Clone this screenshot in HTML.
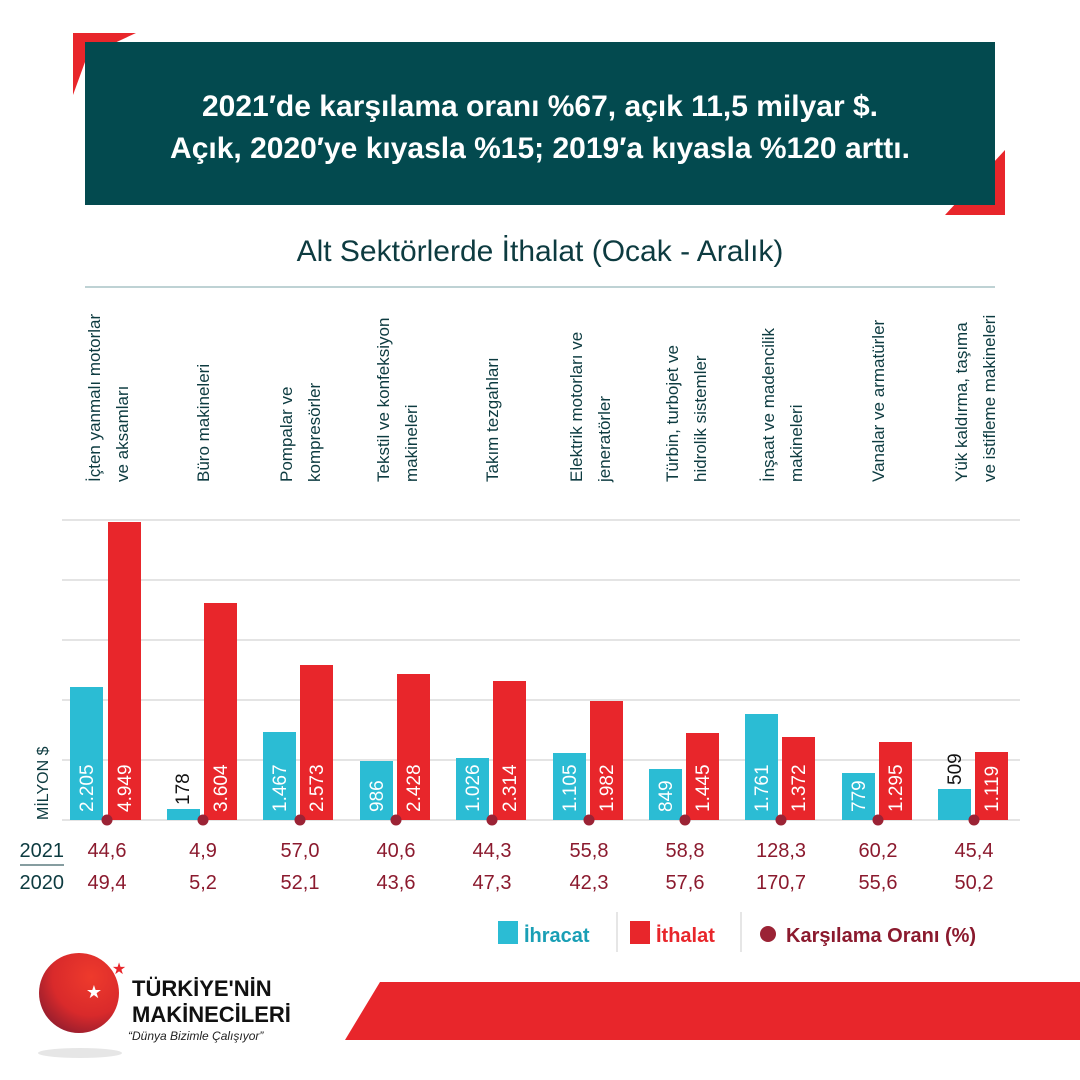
<!DOCTYPE html>
<html><head><meta charset="utf-8"><style>
html,body{margin:0;padding:0;background:#fff;}
svg{display:block;font-family:"Liberation Sans",sans-serif;}
</style></head><body>
<svg width="1080" height="1080" viewBox="0 0 1080 1080" xmlns="http://www.w3.org/2000/svg">
<!-- corner accents -->
<polygon points="73,33 136,33 95,52 85,52 85,62 73,95" fill="#e8262b"/>
<polygon points="1005,150 1005,215 945,215" fill="#e8262b"/>
<rect x="85" y="42" width="910" height="163" fill="#034a4f"/>
<text x="540" y="116" text-anchor="middle" fill="#fff" font-size="30" font-weight="bold">2021′de karşılama oranı %67, açık 11,5 milyar $.</text>
<text x="540" y="158" text-anchor="middle" fill="#fff" font-size="30" font-weight="bold">Açık, 2020′ye kıyasla %15; 2019′a kıyasla %120 arttı.</text>
<text x="540" y="261" text-anchor="middle" fill="#0d3b40" font-size="30">Alt Sektörlerde İthalat (Ocak - Aralık)</text>
<line x1="85" y1="287" x2="995" y2="287" stroke="#a8c4c6" stroke-width="1.5"/>
<!-- grid -->
<g stroke="#dcdcdc" stroke-width="1.5">
<line x1="62" y1="520" x2="1020" y2="520"/><line x1="62" y1="580" x2="1020" y2="580"/>
<line x1="62" y1="640" x2="1020" y2="640"/><line x1="62" y1="700" x2="1020" y2="700"/>
<line x1="62" y1="760" x2="1020" y2="760"/><line x1="62" y1="820" x2="1020" y2="820"/>
</g>
<text transform="translate(48,820) rotate(-90)" fill="#0d3b40" font-size="16">MİLYON $</text>
<g font-size="17" fill="#0d3b40">
<text transform="translate(100,482) rotate(-90)">İçten yanmalı motorlar</text>
<text transform="translate(128,482) rotate(-90)">ve aksamları</text>
<text transform="translate(209,482) rotate(-90)">Büro makineleri</text>
<text transform="translate(292,482) rotate(-90)">Pompalar ve</text>
<text transform="translate(320,482) rotate(-90)">kompresörler</text>
<text transform="translate(389,482) rotate(-90)">Tekstil ve konfeksiyon</text>
<text transform="translate(417,482) rotate(-90)">makineleri</text>
<text transform="translate(498,482) rotate(-90)">Takım tezgahları</text>
<text transform="translate(582,482) rotate(-90)">Elektrik motorları ve</text>
<text transform="translate(610,482) rotate(-90)">jeneratörler</text>
<text transform="translate(678,482) rotate(-90)">Türbin, turbojet ve</text>
<text transform="translate(706,482) rotate(-90)">hidrolik sistemler</text>
<text transform="translate(774,482) rotate(-90)">İnşaat ve madencilik</text>
<text transform="translate(802,482) rotate(-90)">makineleri</text>
<text transform="translate(884,482) rotate(-90)">Vanalar ve armatürler</text>
<text transform="translate(967,482) rotate(-90)">Yük kaldırma, taşıma</text>
<text transform="translate(995,482) rotate(-90)">ve istifleme makineleri</text>
</g>
<!-- bars -->
<g>
<rect x="70" y="687" width="33" height="133" fill="#2bbcd4"/><rect x="108" y="522" width="33" height="298" fill="#e8262b"/>
<rect x="167" y="809" width="33" height="11" fill="#2bbcd4"/><rect x="204" y="603" width="33" height="217" fill="#e8262b"/>
<rect x="263" y="732" width="33" height="88" fill="#2bbcd4"/><rect x="300" y="665" width="33" height="155" fill="#e8262b"/>
<rect x="360" y="761" width="33" height="59" fill="#2bbcd4"/><rect x="397" y="674" width="33" height="146" fill="#e8262b"/>
<rect x="456" y="758" width="33" height="62" fill="#2bbcd4"/><rect x="493" y="681" width="33" height="139" fill="#e8262b"/>
<rect x="553" y="753" width="33" height="67" fill="#2bbcd4"/><rect x="590" y="701" width="33" height="119" fill="#e8262b"/>
<rect x="649" y="769" width="33" height="51" fill="#2bbcd4"/><rect x="686" y="733" width="33" height="87" fill="#e8262b"/>
<rect x="745" y="714" width="33" height="106" fill="#2bbcd4"/><rect x="782" y="737" width="33" height="83" fill="#e8262b"/>
<rect x="842" y="773" width="33" height="47" fill="#2bbcd4"/><rect x="879" y="742" width="33" height="78" fill="#e8262b"/>
<rect x="938" y="789" width="33" height="31" fill="#2bbcd4"/><rect x="975" y="752" width="33" height="68" fill="#e8262b"/>
</g>
<g font-size="19" fill="#fff">
<text transform="translate(93,812) rotate(-90)">2.205</text><text transform="translate(131,812) rotate(-90)">4.949</text>
<text transform="translate(189,805) rotate(-90)" fill="#111">178</text><text transform="translate(227,812) rotate(-90)">3.604</text>
<text transform="translate(286,812) rotate(-90)">1.467</text><text transform="translate(323,812) rotate(-90)">2.573</text>
<text transform="translate(383,812) rotate(-90)">986</text><text transform="translate(420,812) rotate(-90)">2.428</text>
<text transform="translate(479,812) rotate(-90)">1.026</text><text transform="translate(516,812) rotate(-90)">2.314</text>
<text transform="translate(576,812) rotate(-90)">1.105</text><text transform="translate(613,812) rotate(-90)">1.982</text>
<text transform="translate(672,812) rotate(-90)">849</text><text transform="translate(709,812) rotate(-90)">1.445</text>
<text transform="translate(768,812) rotate(-90)">1.761</text><text transform="translate(805,812) rotate(-90)">1.372</text>
<text transform="translate(865,812) rotate(-90)">779</text><text transform="translate(902,812) rotate(-90)">1.295</text>
<text transform="translate(961,785) rotate(-90)" fill="#111">509</text><text transform="translate(998,812) rotate(-90)">1.119</text>
</g>
<g fill="#9b2335">
<circle cx="107" cy="820" r="5.5"/><circle cx="203" cy="820" r="5.5"/><circle cx="300" cy="820" r="5.5"/>
<circle cx="396" cy="820" r="5.5"/><circle cx="492" cy="820" r="5.5"/><circle cx="589" cy="820" r="5.5"/>
<circle cx="685" cy="820" r="5.5"/><circle cx="781" cy="820" r="5.5"/><circle cx="878" cy="820" r="5.5"/>
<circle cx="974" cy="820" r="5.5"/>
</g>
<g font-size="20" fill="#0d3b40" text-anchor="end">
<text x="64" y="857">2021</text><text x="64" y="889">2020</text>
</g>
<line x1="20" y1="865" x2="64" y2="865" stroke="#0d3b40" stroke-width="1"/>
<g font-size="20" fill="#8b1a2e" text-anchor="middle">
<text x="107" y="857">44,6</text><text x="107" y="889">49,4</text>
<text x="203" y="857">4,9</text><text x="203" y="889">5,2</text>
<text x="300" y="857">57,0</text><text x="300" y="889">52,1</text>
<text x="396" y="857">40,6</text><text x="396" y="889">43,6</text>
<text x="492" y="857">44,3</text><text x="492" y="889">47,3</text>
<text x="589" y="857">55,8</text><text x="589" y="889">42,3</text>
<text x="685" y="857">58,8</text><text x="685" y="889">57,6</text>
<text x="781" y="857">128,3</text><text x="781" y="889">170,7</text>
<text x="878" y="857">60,2</text><text x="878" y="889">55,6</text>
<text x="974" y="857">45,4</text><text x="974" y="889">50,2</text>
</g>
<!-- legend -->
<rect x="498" y="921" width="20" height="23" fill="#2bbcd4"/>
<text x="524" y="942" font-size="20" font-weight="bold" fill="#1a9fb5">İhracat</text>
<line x1="617" y1="912" x2="617" y2="952" stroke="#ccc"/>
<rect x="630" y="921" width="20" height="23" fill="#e8262b"/>
<text x="656" y="942" font-size="20" font-weight="bold" fill="#e8262b">İthalat</text>
<line x1="741" y1="912" x2="741" y2="952" stroke="#ccc"/>
<circle cx="768" cy="934" r="8" fill="#9b2335"/>
<text x="786" y="942" font-size="20" font-weight="bold" fill="#8b1a2e">Karşılama Oranı (%)</text>
<!-- bottom band -->
<polygon points="345,1040 380,982 1080,982 1080,1040" fill="#e8262b"/>
<!-- logo -->
<defs><radialGradient id="g" cx="0.65" cy="0.3" r="0.8"><stop offset="0" stop-color="#ee3a2c"/><stop offset="0.6" stop-color="#d92a2b"/><stop offset="1" stop-color="#8e1c2e"/></radialGradient></defs>
<ellipse cx="80" cy="1053" rx="42" ry="5" fill="#e6e6e6"/>
<circle cx="79" cy="993" r="40" fill="url(#g)"/>
<text x="94" y="998" font-size="18" fill="#fff" text-anchor="middle">★</text>
<text x="119" y="974" font-size="16" fill="#e8262b" text-anchor="middle">★</text>
<text x="132" y="996" font-size="22" font-weight="bold" fill="#111">TÜRKİYE'NİN</text>
<text x="132" y="1022" font-size="22" font-weight="bold" fill="#111">MAKİNECİLERİ</text>
<text x="128" y="1040" font-size="12" font-style="italic" fill="#222">“Dünya Bizimle Çalışıyor”</text>
</svg>
</body></html>
